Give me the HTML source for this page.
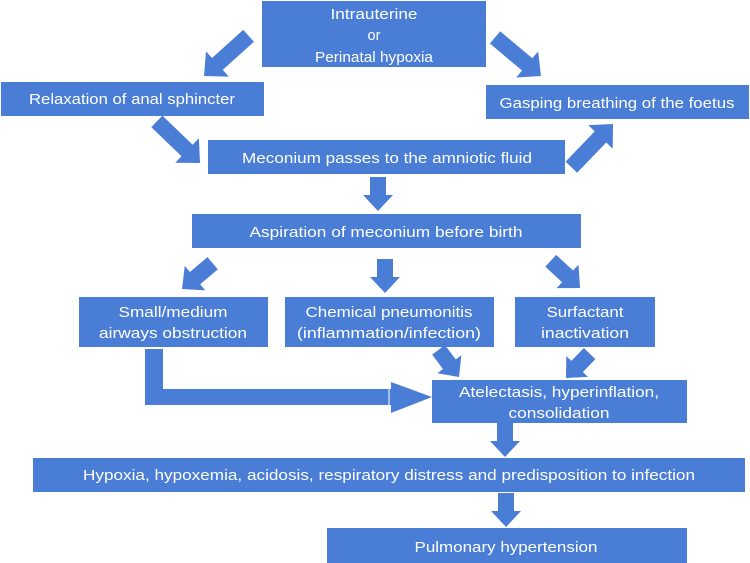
<!DOCTYPE html>
<html><head><meta charset="utf-8"><style>
html,body{margin:0;padding:0;background:#fff;}
svg{display:block;}
text{font-family:"Liberation Sans",sans-serif;font-size:14.5px;fill:#fff;text-anchor:middle;}
</style></head><body>
<svg width="750" height="563" viewBox="0 0 750 563" xmlns="http://www.w3.org/2000/svg">
<defs>
<polygon id="a60" points="-60,-8 -18,-8 -18,-17 0,0 -18,17 -18,8 -60,8"/>
<polygon id="a40" points="-40,-8 -17,-8 -17,-16 0,0 -17,16 -17,8 -40,8"/>
<polygon id="a34" points="-34,-8 -16,-8 -16,-15 0,0 -16,15 -16,8 -34,8"/>
</defs>
<g fill="#4a7dd6">
<rect x="262" y="1" width="224" height="66"/>
<rect x="1" y="82" width="263" height="34"/>
<rect x="486" y="85" width="263" height="34"/>
<rect x="208" y="140" width="357" height="34"/>
<rect x="192" y="214" width="389" height="34"/>
<rect x="79" y="297" width="189" height="50"/>
<rect x="285" y="297" width="209" height="50"/>
<rect x="515" y="297" width="140" height="50"/>
<rect x="432" y="380" width="255" height="43"/>
<rect x="33" y="458" width="712" height="34"/>
<rect x="327" y="528" width="360" height="35"/>

<use href="#a60" transform="translate(204,76) rotate(138)"/>
<use href="#a60" transform="translate(541,76) rotate(40)"/>
<use href="#a60" transform="translate(200,163) rotate(44)"/>
<use href="#a60" transform="translate(613,124) rotate(-46)"/>
<use href="#a34" transform="translate(378,211) rotate(90)"/>
<use href="#a40" transform="translate(182,289) rotate(140)"/>
<use href="#a34" transform="translate(385,293) rotate(90)"/>
<use href="#a40" transform="translate(580,288) rotate(43)"/>
<use href="#a34" transform="translate(459,377) rotate(53)"/>
<use href="#a34" transform="translate(566,378) rotate(134)"/>
<use href="#a34" transform="translate(505,457) rotate(90)"/>
<use href="#a34" transform="translate(506,527) rotate(90)"/>
<polygon points="145,349 163,349 163,389 391,389 391,382 432,397 391,413 391,405 145,405"/>
</g>
<line x1="389" y1="389" x2="389" y2="405" stroke="#fff" stroke-width="1"/>

<text x="374" y="19" textLength="87" lengthAdjust="spacingAndGlyphs">Intrauterine</text>
<text x="374" y="40">or</text>
<text x="374" y="62" textLength="118" lengthAdjust="spacingAndGlyphs">Perinatal hypoxia</text>
<text x="132" y="104" textLength="206" lengthAdjust="spacingAndGlyphs">Relaxation of anal sphincter</text>
<text x="617" y="108" textLength="235" lengthAdjust="spacingAndGlyphs">Gasping breathing of the foetus</text>
<text x="387" y="163" textLength="290" lengthAdjust="spacingAndGlyphs">Meconium passes to the amniotic fluid</text>
<text x="386" y="237" textLength="273" lengthAdjust="spacingAndGlyphs">Aspiration of meconium before birth</text>
<text x="173" y="317" textLength="109" lengthAdjust="spacingAndGlyphs">Small/medium</text>
<text x="173" y="338" textLength="148" lengthAdjust="spacingAndGlyphs">airways obstruction</text>
<text x="389" y="317" textLength="167" lengthAdjust="spacingAndGlyphs">Chemical pneumonitis</text>
<text x="389" y="338" textLength="184" lengthAdjust="spacingAndGlyphs">(inflammation/infection)</text>
<text x="585" y="317" textLength="77" lengthAdjust="spacingAndGlyphs">Surfactant</text>
<text x="585" y="338" textLength="88" lengthAdjust="spacingAndGlyphs">inactivation</text>
<text x="559" y="397" textLength="200" lengthAdjust="spacingAndGlyphs">Atelectasis, hyperinflation,</text>
<text x="559" y="418" textLength="101" lengthAdjust="spacingAndGlyphs">consolidation</text>
<text x="389" y="480" textLength="612" lengthAdjust="spacingAndGlyphs">Hypoxia, hypoxemia, acidosis, respiratory distress and predisposition to infection</text>
<text x="506" y="552" textLength="183" lengthAdjust="spacingAndGlyphs">Pulmonary hypertension</text>
</svg>
</body></html>
